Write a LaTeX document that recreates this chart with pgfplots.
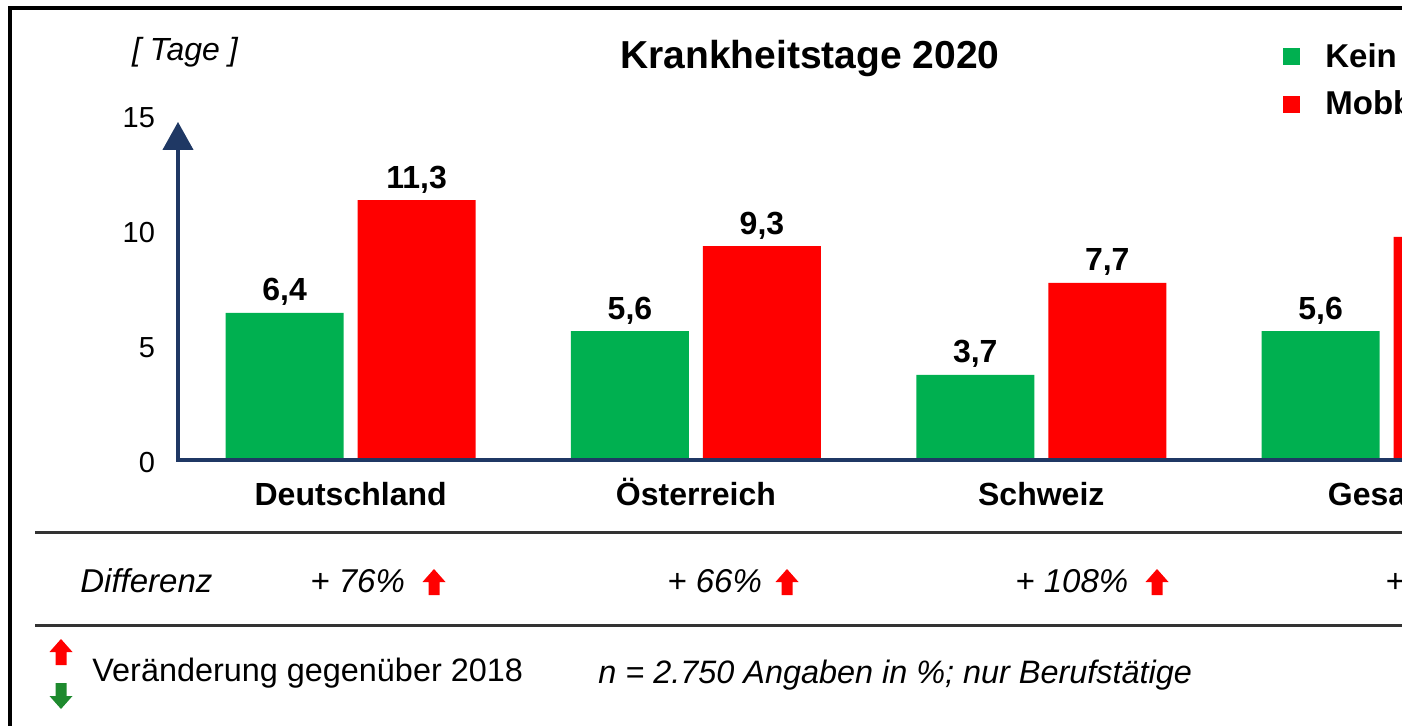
\documentclass[border=0pt]{standalone}
\usepackage{fontspec}
\setmainfont{Liberation Sans}
\usepackage{pgfplots}
\pgfplotsset{compat=1.18}
\usetikzlibrary{arrows.meta}

\definecolor{barGreen}{HTML}{00B050}
\definecolor{barRed}{HTML}{FF0000}
\definecolor{axisNavy}{HTML}{1F3864}
\definecolor{arrGreen}{HTML}{1E8A2E}
\definecolor{ruleGray}{HTML}{333333}

% block arrows, pixel units (x=0.5pt)
\newcommand\uparr[3]{\fill[#3] (#1-5.5,#2) -- (#1+5.5,#2) -- (#1+5.5,#2+13) -- (#1+11.5,#2+13) -- (#1,#2+26) -- (#1-11.5,#2+13) -- (#1-5.5,#2+13) -- cycle;}
\newcommand\downarr[3]{\fill[#3] (#1-5.5,#2) -- (#1+5.5,#2) -- (#1+5.5,#2-13) -- (#1+11.5,#2-13) -- (#1,#2-26) -- (#1-11.5,#2-13) -- (#1-5.5,#2-13) -- cycle;}

\begin{document}
\begin{tikzpicture}
\path[use as bounding box] (0,0) rectangle (701pt,362.5pt);
\clip (0,0) rectangle (701pt,362.5pt);

\begin{axis}[
    at={(89pt,132.5pt)}, anchor=south west,
    scale only axis,
    width=690.6pt, height=172.5pt,
    xmin=-0.5, xmax=3.5,
    ymin=0, ymax=15,
    axis line style={draw=none},
    major tick length=0pt,
    xtick={0,1,2,3},
    xticklabels={Deutschland,Österreich,Schweiz,Gesamt},
    xticklabel style={font=\bfseries\fontsize{16}{19}\selectfont, text height=12pt, text depth=3pt, yshift=-7pt},
    ytick={0,5,10,15},
    yticklabels={0,5,10,15},
    yticklabel style={font=\fontsize{14.5}{17}\selectfont, xshift=-8pt, yshift=-1.5pt},
    ybar=7pt,
    bar width=59pt,
    nodes near coords={\pgfmathprintnumber[fixed,fixed zerofill,precision=1,use comma,assume math mode=true]{\pgfplotspointmeta}},
    every node near coord/.append style={font=\bfseries\fontsize{16}{19}\selectfont, black},
    clip=false,
    legend style={at={(0.800,1.221)}, anchor=north west, draw=none, fill=none,
        font=\bfseries\fontsize{16.5}{20}\selectfont, row sep=6.5pt, inner sep=0pt},
    legend cell align=left,
    legend image code/.code={\fill[#1] (0pt,-4.25pt) rectangle (8.5pt,4.25pt); \path (19pt,0pt);},
]
\addplot[fill=barGreen, draw=none] coordinates {(0,6.4) (1,5.6) (2,3.7) (3,5.6)};
\addplot[fill=barRed, draw=none] coordinates {(0,11.3) (1,9.3) (2,7.7) (3,9.7)};
\legend{Kein Mobbing, Mobbing}
\draw[axisNavy, line width=2pt, -{Triangle[width=15pt,length=14pt]}]
    (axis cs:3.6,0) -- (axis cs:-0.5,0) -- (axis cs:-0.5,14.7);
\end{axis}

\begin{scope}[x=0.5pt, y=0.5pt]
% frame
\draw[black, line width=1.8pt] (10,-5) -- (10,717) -- (1420,717);
% title and unit
\node[font=\bfseries\fontsize{19.5}{23}\selectfont] at (810,666) {Krankheitstage 2020};
\node[font=\itshape\fontsize{16}{19}\selectfont] at (185,673) {[ Tage ]};
% rules
\draw[ruleGray, line width=1.5pt] (35,193) -- (1420,193);
\draw[ruleGray, line width=1.5pt] (35,100) -- (1420,100);
% Differenz row
\begin{scope}[every node/.style={inner sep=0pt, anchor=west, font=\itshape\fontsize{16.5}{20}\selectfont}]
\node at (80,144) {Differenz};
\node at (310,144) {+ 76\%};
\node at (667,144) {+ 66\%};
\node at (1015,144) {+ 108\%};
\node at (1385,144) {+ 73\%};
\end{scope}
\uparr{434}{130}{barRed}
\uparr{787}{130}{barRed}
\uparr{1157}{130}{barRed}
% footer
\uparr{61}{60}{barRed}
\downarr{61}{42}{arrGreen}
\node[inner sep=0pt, anchor=west, font=\fontsize{16.2}{19}\selectfont] at (92,52) {Veränderung gegenüber 2018};
\node[inner sep=0pt, anchor=west, font=\itshape\fontsize{16.2}{19}\selectfont] at (598,50) {n = 2.750 Angaben in \%; nur Berufstätige};
\end{scope}
\end{tikzpicture}
\end{document}
